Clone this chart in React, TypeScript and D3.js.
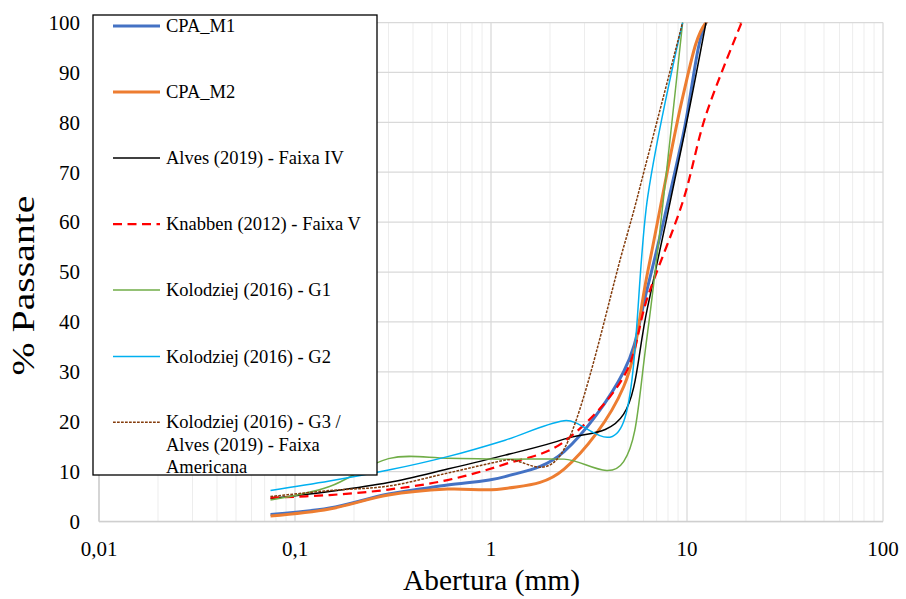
import React from "react";
import * as d3 from "d3";

const sieves = [0.075, 0.15, 0.3, 0.6, 1.18, 2.36, 4.75, 6.3, 9.5, 12.5, 19];

const cpaM1 = [1.4, 2.7, 5.5, 7.3, 9.0, 14, 30, 47, 77, 100, 100];
const cpaM2 = [1.1, 2.5, 5.3, 6.5, 6.6, 10.5, 27, 50, 85, 100, 100];
const alvesIV = [4.6, 6.0, 7.8, 10.5, 13.3, 16.5, 21.5, 43, 76, 100];
const knabbenV = [4.8, 5.3, 6.4, 8.3, 11.5, 16, 29, 45, 64, 81.5, 100];
const kolG1 = [4.3, 7.0, 12.6, 12.7, 12.5, 12.5, 12, 38, 100];
const kolG2 = [6.2, 8.1, 10.3, 13, 16.3, 20.2, 20, 65, 100];
const kolG3 = [5.0, 6.2, 7.1, 9.7, 12.3, 14.5, 55, 73, 100];

const seriesNames = [
  "CPA_M1",
  "CPA_M2",
  "Alves (2019) - Faixa IV",
  "Knabben (2012) - Faixa V",
  "Kolodziej (2016) - G1",
  "Kolodziej (2016) - G2",
  "Kolodziej (2016) - G3 / Alves (2019) - Faixa Americana",
];
const seriesValues = [cpaM1, cpaM2, alvesIV, knabbenV, kolG1, kolG2, kolG3];

const legendLines = [
  ["CPA_M1"],
  ["CPA_M2"],
  ["Alves (2019) - Faixa IV"],
  ["Knabben (2012) - Faixa V"],
  ["Kolodziej (2016) - G1"],
  ["Kolodziej (2016) - G2"],
  ["Kolodziej (2016) - G3 /", "Alves (2019) - Faixa", "Americana"],
];

const xTicks = [0.01, 0.1, 1, 10, 100];
const xTickLabels = ["0,01", "0,1", "1", "10", "100"];
const yTicks = [0, 10, 20, 30, 40, 50, 60, 70, 80, 90, 100];

const styles = [
  { color: "#4472C4", width: 3, dash: "" },
  { color: "#ED7D31", width: 3, dash: "" },
  { color: "#000000", width: 1.5, dash: "" },
  { color: "#FF0000", width: 2.25, dash: "9 5.5" },
  { color: "#70AD47", width: 1.5, dash: "" },
  { color: "#00B0F0", width: 1.5, dash: "" },
  { color: "#843C0C", width: 1.5, dash: "2.75 1.25" },
];

const FONT = '"Liberation Serif", "Times New Roman", Times, serif';

export default function App() {
  const W = 906;
  const H = 599;
  const left = 99;
  const right = 883;
  const top = 22.5;
  const bottom = 521.5;

  const x = d3.scaleLog().domain([0.01, 100]).range([left, right]);
  const y = d3.scaleLinear().domain([0, 100]).range([bottom, top]);

  const line = d3
    .line<[number, number]>()
    .x((d) => x(d[0]))
    .y((d) => y(d[1]))
    .curve(d3.curveCardinal.tension(0));

  const minor: number[] = [];
  [0.01, 0.1, 1, 10].forEach((dec) => {
    for (let m = 2; m <= 9; m++) minor.push(dec * m);
  });

  const legendRowY = [26, 92, 158, 224, 290, 356.5, 422.3];
  const txt = { fontFamily: FONT };

  return (
    <svg
      width={W}
      height={H}
      style={{ position: "absolute", left: 0, top: 0, background: "#fff", fontFamily: FONT }}
    >
      <rect x={0} y={0} width={W} height={H} fill="#fff" />
      <defs>
        <clipPath id="plotClip">
          <rect x={left} y={top} width={right - left} height={bottom - top} />
        </clipPath>
      </defs>
      {minor.map((v, i) => (
        <line
          key={"mn" + i}
          x1={x(v)}
          x2={x(v)}
          y1={top}
          y2={bottom}
          stroke="#ededed"
          strokeWidth={1}
        />
      ))}
      {xTicks.map((v, i) => (
        <line
          key={"mx" + i}
          x1={x(v)}
          x2={x(v)}
          y1={top}
          y2={bottom}
          stroke="#d9d9d9"
          strokeWidth={1.25}
        />
      ))}
      {yTicks.map((v, i) => (
        <line
          key={"my" + i}
          x1={left}
          x2={right}
          y1={y(v)}
          y2={y(v)}
          stroke="#d9d9d9"
          strokeWidth={1.25}
        />
      ))}
      <line x1={left} x2={right} y1={bottom} y2={bottom} stroke="#cfcfcf" strokeWidth={1.5} />
      <line x1={left} x2={left} y1={top} y2={bottom} stroke="#cfcfcf" strokeWidth={1.5} />

      <g clipPath="url(#plotClip)">
        {seriesValues.map((vals, si) => {
          const pts: [number, number][] = vals.map((v, i) => [sieves[i], v]);
          const st = styles[si];
          return (
            <path
              key={"s" + si}
              d={line(pts) || ""}
              fill="none"
              stroke={st.color}
              strokeWidth={st.width}
              strokeDasharray={st.dash || undefined}
              strokeLinejoin="round"
            />
          );
        })}
      </g>

      {yTicks.map((v, i) => (
        <text
          key={"yt" + i}
          x={80}
          y={y(v)}
          dy="0.35em"
          textAnchor="end"
          fontSize={21}
          fill="#000"
          style={txt}
        >
          {v}
        </text>
      ))}
      {xTicks.map((v, i) => (
        <text
          key={"xt" + i}
          x={x(v)}
          y={556}
          textAnchor="middle"
          fontSize={21}
          fill="#000"
          style={txt}
        >
          {xTickLabels[i]}
        </text>
      ))}

      <text
        x={491.5}
        y={590}
        textAnchor="middle"
        fontSize={30}
        textLength={177}
        lengthAdjust="spacingAndGlyphs"
        fill="#000"
        style={txt}
      >
        Abertura (mm)
      </text>
      <text
        transform={`translate(33.5,285.5) rotate(-90)`}
        textAnchor="middle"
        fontSize={31}
        textLength={180}
        lengthAdjust="spacingAndGlyphs"
        fill="#000"
        style={txt}
      >
        % Passante
      </text>

      <rect x={93} y={15} width={284} height={460} fill="#fff" stroke="#000" strokeWidth={1.3} />
      {seriesNames.map((name, i) => {
        const st = styles[i];
        const ly = legendRowY[i];
        return (
          <g key={"lg" + i}>
            <line
              x1={113}
              x2={160}
              y1={ly}
              y2={ly}
              stroke={st.color}
              strokeWidth={st.width}
              strokeDasharray={st.dash || undefined}
            />
            {legendLines[i].map((t, j) => (
              <text
                key={j}
                x={166}
                y={ly + j * 22.2}
                dy="0.33em"
                fontSize={18.5}
                fill="#000"
                style={txt}
              >
                {t}
              </text>
            ))}
          </g>
        );
      })}
    </svg>
  );
}
